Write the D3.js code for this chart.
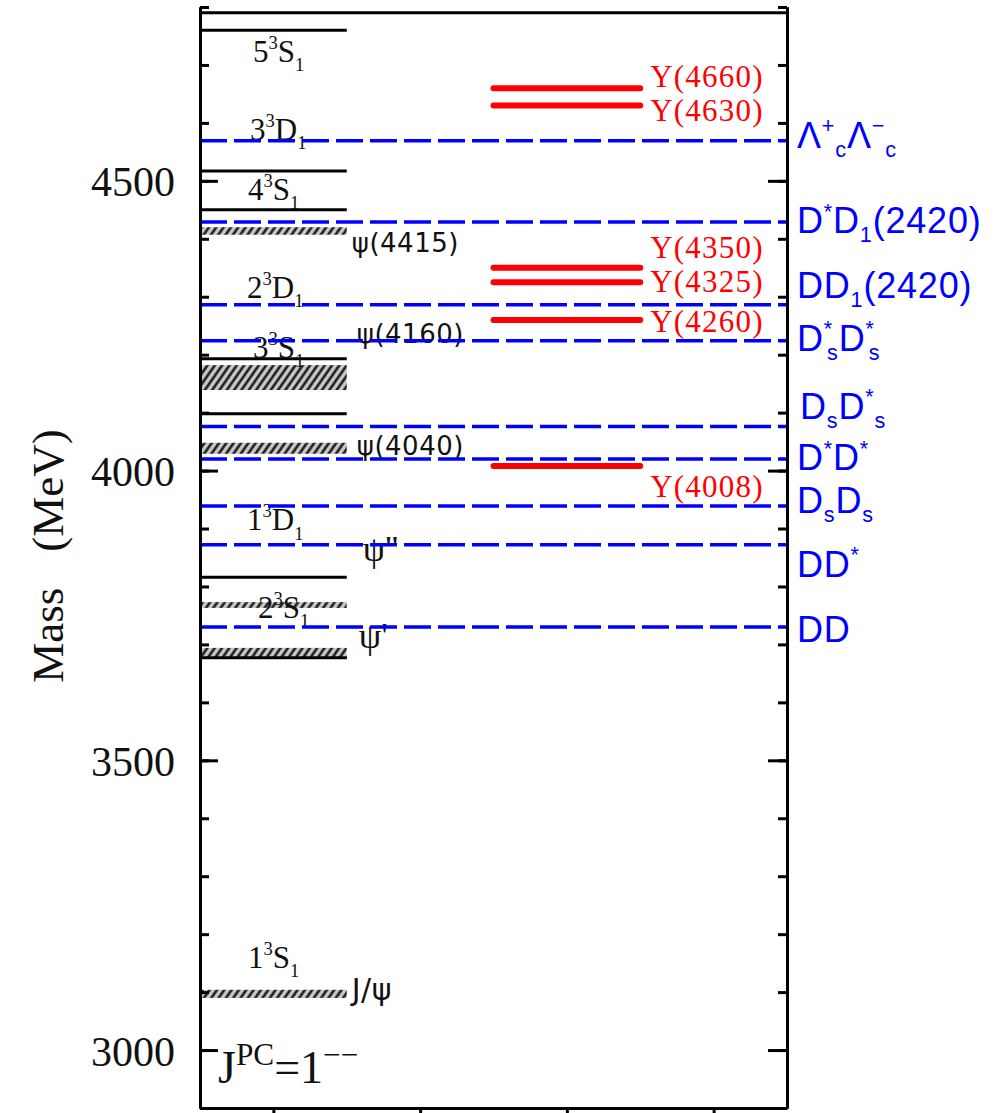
<!DOCTYPE html>
<html>
<head>
<meta charset="utf-8">
<script src="https://cdn.jsdelivr.net/npm/d3@7"></script>
<style>
  body { margin: 0; background: #fff; }
  svg { display: block; }
</style>
</head>
<body>
<div id="chart"></div>
<script>
// ---- data (MeV) ----
// quark model levels (black solid)
const modelLevels = [4760, 4517, 4450, 4193, 4098, 3816, 3677];
// term names and the mass where each name sits
const termNames = ['5,3,S,1', '3,3,D,1', '4,3,S,1', '2,3,D,1', '3,3,S,1', '1,3,D,1', '2,3,S,1', '1,3,S,1'];
const termMass = [4705, 4571, 4467, 4298, 4194, 3897, 3746, 3142];
// observed psi states (hatched bands: low, high)
const psiNames = ['ψ(4415)', 'ψ(4160)', 'ψ(4040)', 'ψ\'\'', 'ψ\'', 'J/ψ'];
const psiLow = [4407, 4139, 4029, 3763, 3675, 3090];
const psiHigh = [4420, 4182, 4048, 3773, 3694, 3104];
const psiLabelMass = [4377, 4220, 4027, 3844, 3694, 3086];
// Y states (red)
const yNames = ['Y(4660)', 'Y(4630)', 'Y(4350)', 'Y(4325)', 'Y(4260)', 'Y(4008)'];
const yMass = [4660, 4630, 4350, 4325, 4260, 4008];
// open charm thresholds (blue dashed)
const thrNames = ['ΛcΛc', 'D*D1(2420)', 'DD1(2420)', 'D*sD*s', 'DsD*s', 'D*D*', 'DsDs', 'DD*', 'DD'];
const thrMass = [4569, 4429, 4286, 4224, 4076, 4020, 3939, 3872, 3730];
const majorTicks = [3000, 3500, 4000, 4500];
const minorTicks = d3.range(2900, 4801, 100);

// rich text pieces for the labels: [text, 'sup'|'sub'|'', dx]
const thrParts = {
  'ΛcΛc': [['Λ'], ['+', 'sup'], ['c', 'sub', 0], ['Λ'], ['−', 'sup'], ['c', 'sub', 0]],
  'D*D1(2420)': [['D'], ['*', 'sup'], ['D'], ['1', 'sub'], ['(2420)']],
  'DD1(2420)': [['DD'], ['1', 'sub'], ['(2420)']],
  'D*sD*s': [['D'], ['*', 'sup'], ['s', 'sub', -6], ['D'], ['*', 'sup'], ['s', 'sub', -6]],
  'DsD*s': [['D'], ['s', 'sub'], ['D'], ['*', 'sup'], ['s', 'sub']],
  'D*D*': [['D'], ['*', 'sup'], ['D'], ['*', 'sup']],
  'DsDs': [['D'], ['s', 'sub'], ['D'], ['s', 'sub']],
  'DD*': [['DD'], ['*', 'sup']],
  'DD': [['DD']]
};
// label nudges (px) from the line
const thrNudge = [7, 11, -7, 10, -8, 11, 7, 32, 15];
const yNudge = [-1, 15, -10, 10, 12, 31];

const W = 1006, H = 1113;
const x = d3.scaleLinear().domain([0, 8]).range([200, 787]);
const y = d3.scaleLinear().domain([2900, 4800]).range([1108, 7]);

const svg = d3.select('#chart').append('svg').attr('width', W).attr('height', H);

const defs = svg.append('defs');
const pat = defs.append('pattern').attr('id', 'hatch')
  .attr('patternUnits', 'userSpaceOnUse').attr('width', 6).attr('height', 6)
  .attr('patternTransform', 'rotate(35)');
pat.append('rect').attr('width', 6).attr('height', 6).attr('fill', '#c8c8c8');
pat.append('line').attr('x1', 1.5).attr('y1', 0).attr('x2', 1.5).attr('y2', 6)
  .attr('stroke', '#111').attr('stroke-width', 2.4);

function rich(sel, parts, size, scale, sup, sub) {
  let cur = 0;
  parts.forEach(p => {
    const k = p[1] || '';
    const target = k === 'sup' ? -size * sup : k === 'sub' ? size * sub : 0;
    sel.append('tspan')
      .attr('dy', target - cur)
      .attr('dx', p[2] || 0)
      .attr('font-size', k ? size * scale : size)
      .text(p[0]);
    cur = target;
  });
}

// hatched psi bands
svg.append('g').selectAll('rect')
  .data(psiLow.map((d, i) => [d, psiHigh[i]]))
  .enter().append('rect')
  .attr('x', x(0)).attr('width', x(2) - x(0))
  .attr('y', d => y(d[1])).attr('height', d => y(d[0]) - y(d[1]))
  .attr('fill', 'url(#hatch)');

// model levels
svg.append('g').selectAll('line')
  .data(modelLevels).enter().append('line')
  .attr('x1', x(0)).attr('x2', x(2))
  .attr('y1', d => y(d)).attr('y2', d => y(d))
  .attr('stroke', '#000').attr('stroke-width', 3);

// Y states
svg.append('g').selectAll('line')
  .data(yMass).enter().append('line')
  .attr('x1', x(4)).attr('x2', x(6))
  .attr('y1', d => y(d)).attr('y2', d => y(d))
  .attr('stroke', '#ff0000').attr('stroke-width', 6).attr('stroke-linecap', 'round');

// term labels
termNames.forEach((t, i) => {
  const s = t.split(',');
  const tx = svg.append('text')
    .attr('x', x(0) + [53, 50, 48, 47, 53, 47, 58, 48][i])
    .attr('y', y(termMass[i]))
    .attr('font-family', 'Liberation Serif, Times New Roman, serif')
    .attr('fill', '#111');
  rich(tx, [[s[0]], [s[1], 'sup'], [s[2]], [s[3], 'sub']], 31, 0.6, 0.42, 0.3);
});

// psi labels
psiNames.forEach((t, i) => {
  const serif = (t === "ψ''" || t === "ψ'");
  svg.append('text')
    .attr('x', x(2) + [5, 10, 10, 16, 12, 5][i])
    .attr('y', y(psiLabelMass[i]))
    .attr('font-family', serif ? 'Liberation Serif, serif' : 'DejaVu Sans, sans-serif')
    .attr('font-size', serif ? 36 : (t === 'J/ψ' ? 30 : 26))
    .attr('letter-spacing', serif ? 0 : 0.5)
    .attr('fill', '#111')
    .text(t);
});

// Y labels
yNames.forEach((t, i) => {
  svg.append('text')
    .attr('x', x(6) + 10)
    .attr('y', y(yMass[i]) + yNudge[i])
    .attr('font-family', 'Liberation Serif, Times New Roman, serif')
    .attr('font-size', 31)
    .attr('letter-spacing', 1.2)
    .attr('fill', '#ff0000')
    .text(t);
});

// J^PC label
const jpc = svg.append('text').attr('x', 218).attr('y', 1083)
  .attr('font-family', 'Liberation Serif, Times New Roman, serif').attr('fill', '#111');
rich(jpc, [['J'], ['PC', 'sup'], ['=1'], ['−−', 'sup']], 46, 0.68, 0.4, 0);

// thresholds
svg.append('g').selectAll('line')
  .data(thrMass).enter().append('line')
  .attr('x1', x(0)).attr('x2', x(8))
  .attr('y1', d => y(d)).attr('y2', d => y(d))
  .attr('stroke', '#0000ff').attr('stroke-width', 3.5)
  .attr('stroke-dasharray', '27,7');

thrNames.forEach((t, i) => {
  const tx = svg.append('text')
    .attr('x', x(8) + (t === 'DsD*s' ? 13 : 10))
    .attr('y', y(thrMass[i]) + thrNudge[i])
    .attr('font-family', 'Liberation Sans, Arial, sans-serif')
    .attr('letter-spacing', 0.8)
    .attr('fill', '#0000ff');
  rich(tx, thrParts[t], 36, 0.6, 0.4, 0.25);
});

// axes
function styleAxis(g) {
  g.select('.domain').attr('stroke', '#000').attr('stroke-width', 3);
  g.selectAll('.tick line').attr('stroke', '#000').attr('stroke-width', 3);
}
svg.append('g').attr('transform', `translate(${x(0)},0)`)
  .call(d3.axisLeft(y).tickValues(minorTicks).tickSize(-9).tickSizeOuter(0).tickFormat(''))
  .call(styleAxis);
const yl = svg.append('g').attr('transform', `translate(${x(0)},0)`)
  .call(d3.axisLeft(y).tickValues(majorTicks).tickSize(-18).tickSizeOuter(0).tickPadding(25).tickFormat(d3.format('d')))
  .call(styleAxis);
yl.selectAll('text')
  .attr('font-family', 'Liberation Serif, Times New Roman, serif')
  .attr('font-size', 42).attr('fill', '#111').attr('dy', 15);

svg.append('g').attr('transform', `translate(${x(8)},0)`)
  .call(d3.axisRight(y).tickValues(minorTicks).tickSize(-9).tickSizeOuter(0).tickFormat(''))
  .call(styleAxis);
svg.append('g').attr('transform', `translate(${x(8)},0)`)
  .call(d3.axisRight(y).tickValues(majorTicks).tickSize(-19).tickSizeOuter(0).tickFormat(''))
  .call(styleAxis);

svg.append('g').attr('transform', `translate(0,${y(2900)})`)
  .call(d3.axisBottom(x).tickValues([1, 3, 5, 7]).tickSize(8).tickSizeOuter(0).tickFormat(''))
  .call(styleAxis);

// top frame
svg.append('line')
  .attr('x1', x(0)).attr('x2', x(8))
  .attr('y1', y(4790)).attr('y2', y(4790))
  .attr('stroke', '#000').attr('stroke-width', 3);

// axis title
const title = svg.append('text')
  .attr('transform', 'translate(63,556) rotate(-90)')
  .attr('text-anchor', 'middle')
  .attr('font-family', 'Liberation Serif, Times New Roman, serif')
  .attr('font-size', 45).attr('fill', '#111');
title.append('tspan').text('Mass');
title.append('tspan').attr('dx', 36).text('(MeV)');
</script>
</body>
</html>
